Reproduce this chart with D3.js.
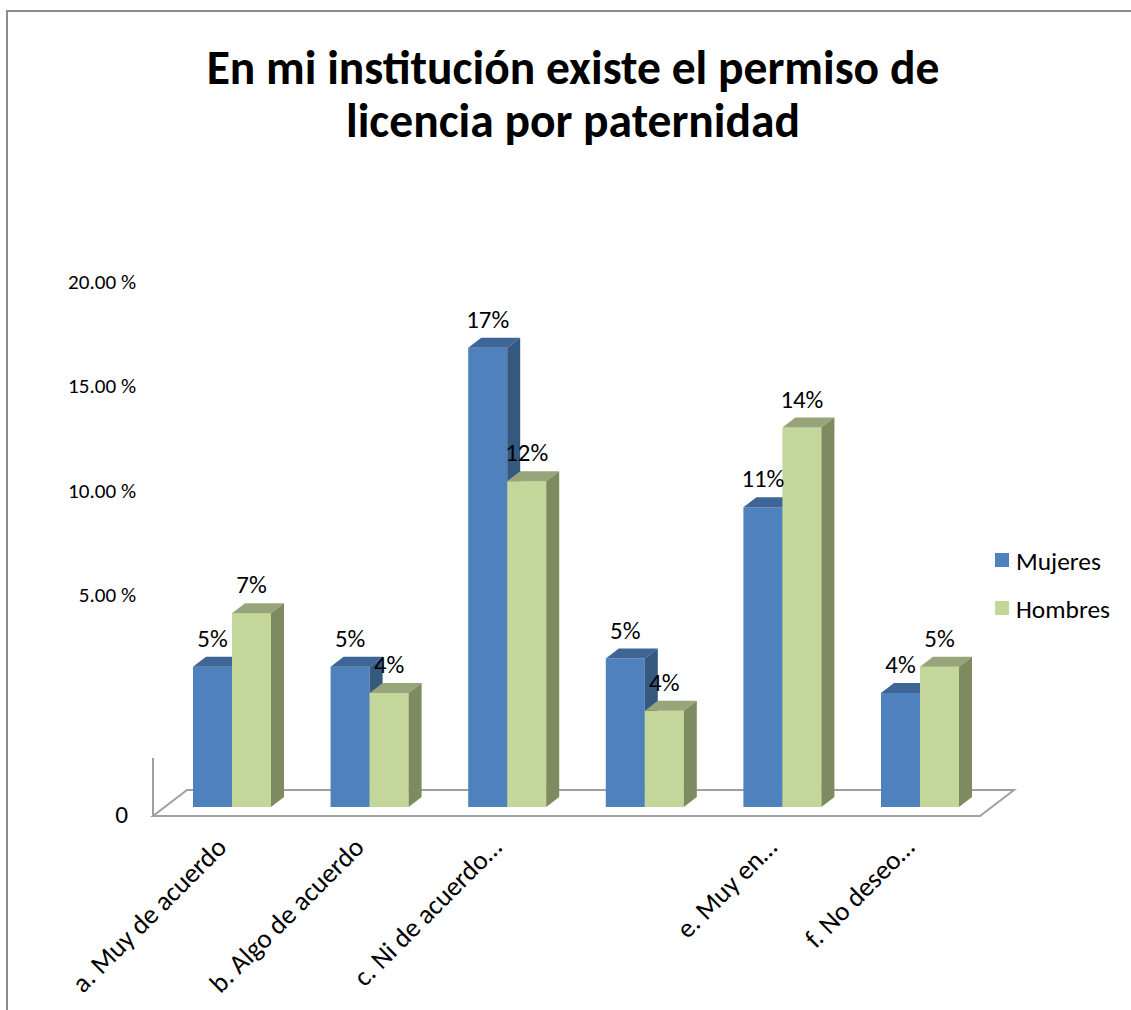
<!DOCTYPE html>
<html>
<head>
<meta charset="utf-8">
<script src="https://cdn.jsdelivr.net/npm/d3@7"></script>
<style>
  body { margin: 0; background: #fff; }
  svg { display: block; }
  text { font-family: Carlito, Lato, "Open Sans", sans-serif; fill: #000; }
</style>
</head>
<body>
<div id="chart"></div>
<script>
// Chart data
var titleLines = ["En mi institución existe el permiso de", "licencia por paternidad"];
var categories = ["a. Muy de acuerdo", "b. Algo de acuerdo", "c. Ni de acuerdo…", "", "e. Muy en…", "f. No deseo…"];
var series = ["Mujeres", "Hombres"];
var mujeres = [5.1, 5.1, 16.7, 5.4, 10.9, 4.15];
var hombres = [7.05, 4.15, 11.85, 3.5, 13.8, 5.1];
var tickValues = [5, 10, 15, 20];
var tickLabels = ["5.00 %", "10.00 %", "15.00 %", "20.00 %"];

var svgWidth = 1131;
var svgHeight = 1010;

var colors = {
  Mujeres: { front: "#4f81bd", top: "#3e6596", side: "#35587f" },
  Hombres: { front: "#c4d79b", top: "#98a479", side: "#7e8a60" }
};

var svg = d3.select("#chart")
  .append("svg")
  .attr("width", svgWidth)
  .attr("height", svgHeight);

// measure helper, used to pick font sizes that give the widths seen in the picture
var probe = svg.append("text").attr("x", -1000).attr("y", -1000);
function fitSize(str, weight, target) {
  probe.attr("font-size", 100).attr("font-weight", weight).text(str);
  var w = probe.node().getComputedTextLength();
  return 100 * target / w;
}

// outer frame
svg.append("rect")
  .attr("x", 7)
  .attr("y", 11)
  .attr("width", 1200)
  .attr("height", 1100)
  .attr("fill", "none")
  .attr("stroke", "#8c8c8c")
  .attr("stroke-width", 2);

// title
var titleSize = fitSize(titleLines[0], "bold", 733);
svg.selectAll(".title")
  .data(titleLines)
  .enter()
  .append("text")
  .attr("class", "title")
  .attr("x", 573)
  .attr("y", (d, i) => 84 + i * 53)
  .attr("text-anchor", "middle")
  .attr("font-weight", "bold")
  .attr("font-size", titleSize)
  .text(d => d);

// scales
var baseY = 807;
var depthX = 13, depthY = 10;

var x0 = d3.scaleBand()
  .domain(d3.range(categories.length))
  .range([163.2, 988.8])
  .paddingInner(0.433)
  .paddingOuter(0.2165);

var x1 = d3.scaleBand()
  .domain(series)
  .range([0, x0.bandwidth()]);

var y = d3.scaleLinear()
  .domain([0, 20])
  .range([baseY, baseY - 550]);

// tick labels are placed on their own scale (as in the source picture)
var yTick = d3.scaleLinear()
  .domain([5, 20])
  .range([602, 289]);

// floor and wall edge
var floorFront = 816, floorBack = 790;
var floorLeft = 153, floorRight = 980, floorDX = 34;
var gridColor = "#a0a0a0";

svg.append("path")
  .attr("d", `M${floorLeft},${floorFront} L${floorRight},${floorFront} L${floorRight + floorDX},${floorBack} L${floorLeft + floorDX},${floorBack} Z`)
  .attr("fill", "none")
  .attr("stroke", gridColor)
  .attr("stroke-width", 2);

svg.append("line")
  .attr("x1", floorLeft).attr("x2", floorLeft)
  .attr("y1", 758).attr("y2", floorFront)
  .attr("stroke", gridColor)
  .attr("stroke-width", 2);

// y tick labels
var tickSize = fitSize("20.00 %", "normal", 68);
svg.selectAll(".tick")
  .data(tickValues)
  .enter()
  .append("text")
  .attr("class", "tick")
  .attr("x", 136)
  .attr("y", d => yTick(d))
  .attr("text-anchor", "end")
  .attr("font-size", tickSize)
  .text((d, i) => tickLabels[i]);

svg.append("text")
  .attr("x", 128)
  .attr("y", 823)
  .attr("text-anchor", "end")
  .attr("font-size", tickSize * 1.2)
  .text("0");

// bars
var rows = categories.map(function (c, i) {
  return [
    { key: "Mujeres", value: mujeres[i], cat: i },
    { key: "Hombres", value: hombres[i], cat: i }
  ];
});

var groups = svg.selectAll(".group")
  .data(rows)
  .enter()
  .append("g")
  .attr("class", "group")
  .attr("transform", (d, i) => `translate(${x0(i)},0)`);

var bars = groups.selectAll(".bar")
  .data(d => d)
  .enter()
  .append("g")
  .attr("class", "bar");

bars.each(function (d) {
  var g = d3.select(this);
  var xl = x1(d.key), xr = xl + x1.bandwidth();
  var yt = y(d.value);
  var c = colors[d.key];
  g.append("rect")
    .attr("x", xl)
    .attr("y", yt)
    .attr("width", x1.bandwidth())
    .attr("height", baseY - yt)
    .attr("fill", c.front);
  g.append("path")
    .attr("d", `M${xl},${yt} L${xl + depthX},${yt - depthY} L${xr + depthX},${yt - depthY} L${xr},${yt} Z`)
    .attr("fill", c.top);
  g.append("path")
    .attr("d", `M${xr},${yt} L${xr + depthX},${yt - depthY} L${xr + depthX},${baseY - depthY} L${xr},${baseY} Z`)
    .attr("fill", c.side);
});

// value labels
var labelSize = fitSize("17%", "normal", 43);
groups.selectAll(".vlabel")
  .data(d => d)
  .enter()
  .append("text")
  .attr("class", "vlabel")
  .attr("x", d => x1(d.key) + x1.bandwidth() / 2)
  .attr("y", d => y(d.value) - 20)
  .attr("text-anchor", "middle")
  .attr("font-size", labelSize)
  .text(d => Math.round(d.value) + "%");

// category labels, rotated
var catSize = fitSize(categories[0], "normal", 205);
svg.selectAll(".cat")
  .data(categories)
  .enter()
  .append("text")
  .attr("class", "cat")
  .attr("text-anchor", "end")
  .attr("font-size", catSize)
  .attr("transform", (d, i) => `translate(${x0(i) + x0.bandwidth() / 2 - 4},${849}) rotate(-45)`)
  .text(d => d);

// legend
var legendSize = fitSize("Mujeres", "normal", 85);
var legend = svg.selectAll(".legend")
  .data(series)
  .enter()
  .append("g")
  .attr("class", "legend")
  .attr("transform", (d, i) => `translate(995,${553 + i * 48})`);

legend.append("rect")
  .attr("width", 14)
  .attr("height", 14)
  .attr("fill", d => colors[d].front);

legend.append("text")
  .attr("x", 21)
  .attr("y", 17)
  .attr("font-size", legendSize)
  .text(d => d);

probe.remove();
</script>
</body>
</html>
